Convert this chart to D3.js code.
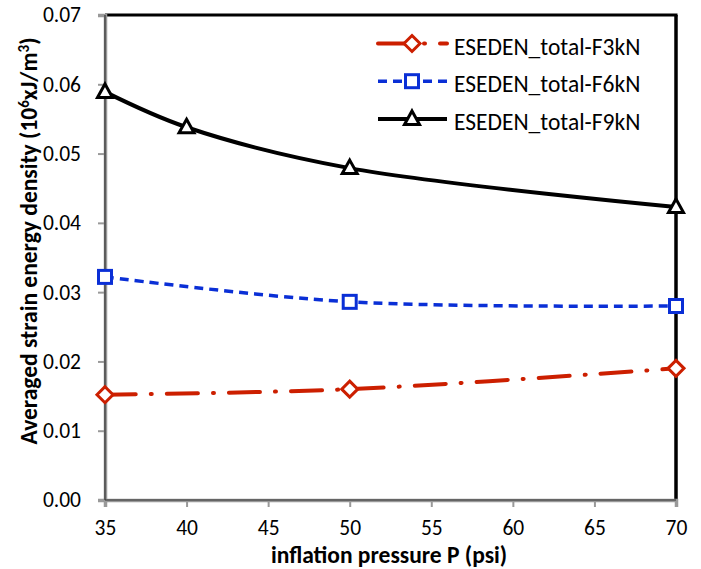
<!DOCTYPE html>
<html>
<head>
<meta charset="utf-8">
<script src="https://cdn.jsdelivr.net/npm/d3@7"></script>
<style>
  html, body { margin: 0; padding: 0; background: #fff; }
  svg { display: block; }
</style>
</head>
<body>
<svg id="chart" width="701" height="569"></svg>
<script>
// Inflation pressure (psi) and averaged strain energy density (10^6 xJ/m^3)
const pressure = [35, 40, 50, 70];
const pressure3 = [35, 50, 70];
const f3kN = [0.0152, 0.0160, 0.0190];
const f6kN = [0.0322, 0.0286, 0.0280];
const f9kN = [0.0589, 0.0538, 0.0479, 0.0423];
const xTicks = [35, 40, 45, 50, 55, 60, 65, 70];
const yTicks = [0, 0.01, 0.02, 0.03, 0.04, 0.05, 0.06, 0.07];
const seriesNames = ["ESEDEN_total-F3kN", "ESEDEN_total-F6kN", "ESEDEN_total-F9kN"];

const font = "Carlito, Lato, 'Liberation Sans', sans-serif";
const fs = 23.5;       // titles and legend
const tickFs = 21.5;   // tick labels
const svg = d3.select("#chart");
const plotL = 105, plotR = 676, plotT = 15, plotB = 500;

const x = d3.scaleLinear().domain([35, 70]).range([plotL, plotR]);
const y = d3.scaleLinear().domain([0, 0.07]).range([plotB, plotT]);

// Frame: black top/right edges, grey axes
svg.append("line").attr("x1", plotL).attr("x2", plotR + 1.5).attr("y1", plotT).attr("y2", plotT)
  .attr("stroke", "#000").attr("stroke-width", 3);
svg.append("line").attr("x1", plotR).attr("x2", plotR).attr("y1", plotT).attr("y2", plotB)
  .attr("stroke", "#000").attr("stroke-width", 3.5);

const yAxis = svg.append("g").attr("transform", `translate(${plotL},0)`)
  .call(d3.axisLeft(y).tickValues(yTicks).tickFormat(d3.format(".2f")).tickSize(7).tickPadding(17));
const xAxis = svg.append("g").attr("transform", `translate(0,${plotB})`)
  .call(d3.axisBottom(x).tickValues(xTicks).tickFormat(d3.format("d")).tickSize(7).tickPadding(13));

[yAxis, xAxis].forEach(g => {
  g.select(".domain").attr("stroke", "#999").attr("stroke-width", 3.5);
  g.selectAll(".tick line").attr("stroke", "#999").attr("stroke-width", 2);
  g.selectAll(".tick text").attr("font-family", font).attr("font-size", tickFs).attr("fill", "#000");
});
// dark core of the axis lines
svg.append("line").attr("x1", plotL).attr("x2", plotL).attr("y1", plotT).attr("y2", plotB)
  .attr("stroke", "#333").attr("stroke-width", 1.2);
svg.append("line").attr("x1", plotL).attr("x2", plotR).attr("y1", plotB).attr("y2", plotB)
  .attr("stroke", "#333").attr("stroke-width", 1.2);

// Axis titles
svg.append("text").attr("x", 389).attr("y", 563).attr("text-anchor", "middle")
  .attr("font-family", font).attr("font-size", fs).attr("font-weight", "bold")
  .text("inflation pressure P (psi)");

const yTitle = svg.append("text").attr("transform", "translate(37,241) rotate(-90)")
  .attr("text-anchor", "middle").attr("font-family", font).attr("font-size", fs).attr("font-weight", "bold");
yTitle.append("tspan").text("Averaged strain energy density (10");
yTitle.append("tspan").attr("dy", -8).attr("font-size", 15).text("6");
yTitle.append("tspan").attr("dy", 8).text("xJ/m");
yTitle.append("tspan").attr("dy", -8).attr("font-size", 15).text("3");
yTitle.append("tspan").attr("dy", 8).text(")");

const line = d3.line().x(d => x(d[0])).y(d => y(d[1])).curve(d3.curveCatmullRom);

const series = [
  { name: seriesNames[0], xs: pressure3, ys: f3kN, color: "#cc1f00", dash: "31,15,1,15", cap: "round", width: 4, marker: "diamond" },
  { name: seriesNames[1], xs: pressure3, ys: f6kN, color: "#0a2fd6", dash: "9,6", cap: "butt", width: 3.5, marker: "square" },
  { name: seriesNames[2], xs: pressure, ys: f9kN, color: "#000000", dash: null, cap: "butt", width: 4, marker: "triangle" }
];

function drawMarker(g, type, cx, cy, color) {
  if (type === "diamond") {
    g.append("path").attr("d", `M${cx},${cy - 8}L${cx + 8},${cy}L${cx},${cy + 8}L${cx - 8},${cy}Z`)
      .attr("fill", "#fff").attr("stroke", color).attr("stroke-width", 3);
  } else if (type === "square") {
    g.append("rect").attr("x", cx - 6.5).attr("y", cy - 6.5).attr("width", 13).attr("height", 13)
      .attr("fill", "#fff").attr("stroke", color).attr("stroke-width", 3);
  } else {
    g.append("path").attr("d", `M${cx},${cy - 8}L${cx + 7.5},${cy + 5.5}L${cx - 7.5},${cy + 5.5}Z`)
      .attr("fill", "#fff").attr("stroke", color).attr("stroke-width", 3).attr("stroke-linejoin", "miter");
  }
}

series.forEach(s => {
  const pts = s.xs.map((v, i) => [v, s.ys[i]]);
  svg.append("path").datum(pts).attr("d", line).attr("fill", "none")
    .attr("stroke", s.color).attr("stroke-width", s.width)
    .attr("stroke-dasharray", s.dash).attr("stroke-linecap", s.cap);
  const mg = svg.append("g");
  pts.forEach(p => drawMarker(mg, s.marker, x(p[0]), y(p[1]), s.color));
});

// Legend
const legend = svg.append("g");
series.forEach((s, i) => {
  const ly = 43.5 + i * 37.7;
  legend.append("line").attr("x1", 378).attr("x2", 447).attr("y1", ly).attr("y2", ly)
    .attr("stroke", s.color).attr("stroke-width", s.width)
    .attr("stroke-dasharray", s.dash)
    .attr("stroke-linecap", s.cap);
  drawMarker(legend, s.marker, 412, ly, s.color);
  legend.append("text").attr("x", 454).attr("y", ly + 11).attr("font-family", font)
    .attr("font-size", fs).attr("fill", "#000").text(s.name);
});
</script>
</body>
</html>
